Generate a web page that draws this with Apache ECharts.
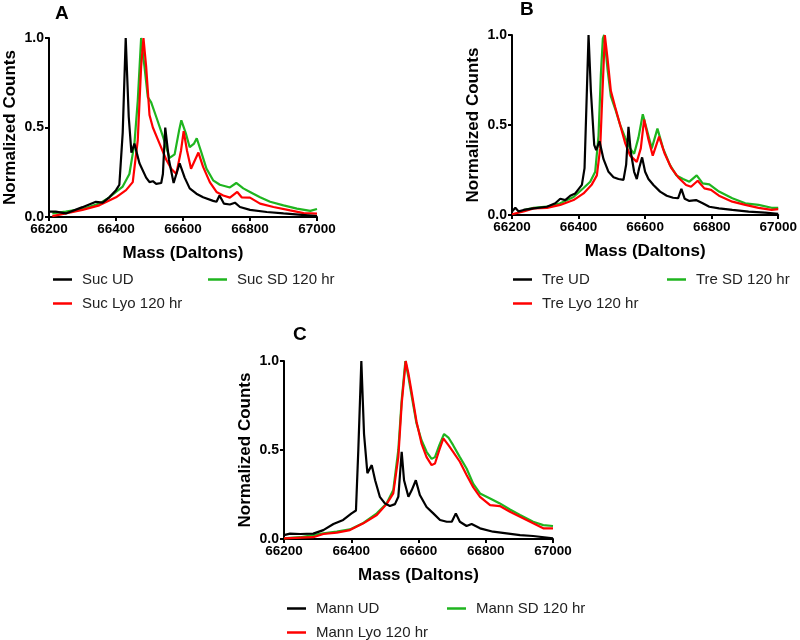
<!DOCTYPE html>
<html>
<head>
<meta charset="utf-8">
<script src="https://cdn.jsdelivr.net/npm/echarts@6/dist/echarts.min.js"></script>
<style>html,body{margin:0;padding:0;background:#fff}#c{width:800px;height:640px}</style>
</head>
<body>
<div id="c"></div>
<script>
// ---------- data (mass in Daltons, normalized counts) ----------
const xTicks = [66200, 66400, 66600, 66800, 67000];
const yTicks = [0.0, 0.5, 1.0];

// Panel A (sucrose)
const sucUD = [[66200,0.03],[66220,0.03],[66250,0.02],[66300,0.055],[66340,0.085],[66360,0.08],[66380,0.11],[66400,0.15],[66410,0.18],[66420,0.47],[66429,1.0],[66438,0.56],[66446,0.36],[66455,0.41],[66470,0.30],[66490,0.22],[66500,0.195],[66510,0.2],[66520,0.185],[66535,0.19],[66540,0.24],[66547,0.5],[66558,0.32],[66572,0.19],[66590,0.30],[66605,0.22],[66620,0.16],[66640,0.13],[66660,0.11],[66690,0.09],[66700,0.085],[66709,0.12],[66722,0.075],[66740,0.07],[66755,0.08],[66770,0.056],[66800,0.04],[66850,0.028],[66900,0.02],[67000,0.005]];
const sucSD = [[66210,0.02],[66250,0.03],[66300,0.045],[66350,0.075],[66380,0.11],[66400,0.14],[66420,0.17],[66440,0.24],[66455,0.41],[66465,0.65],[66475,1.0],[66485,0.84],[66495,0.67],[66505,0.64],[66520,0.56],[66540,0.45],[66560,0.33],[66575,0.35],[66588,0.48],[66595,0.54],[66608,0.47],[66620,0.39],[66633,0.41],[66641,0.44],[66655,0.36],[66670,0.27],[66690,0.205],[66710,0.18],[66740,0.165],[66759,0.19],[66780,0.16],[66800,0.14],[66830,0.11],[66860,0.085],[66900,0.065],[66940,0.047],[66980,0.034],[67000,0.045]];
const sucLyo = [[66210,0.005],[66250,0.02],[66300,0.04],[66350,0.065],[66400,0.11],[66430,0.15],[66450,0.195],[66465,0.43],[66475,0.84],[66482,1.0],[66490,0.84],[66500,0.57],[66510,0.5],[66530,0.41],[66550,0.32],[66565,0.27],[66580,0.24],[66594,0.37],[66602,0.48],[66612,0.37],[66624,0.27],[66646,0.36],[66660,0.28],[66680,0.195],[66700,0.14],[66720,0.12],[66740,0.108],[66762,0.14],[66775,0.11],[66800,0.108],[66830,0.075],[66870,0.056],[66920,0.037],[66960,0.022],[67000,0.019]];

// Panel B (trehalose)
const treUD = [[66200,0.02],[66210,0.04],[66220,0.02],[66235,0.028],[66265,0.037],[66305,0.046],[66330,0.065],[66345,0.09],[66360,0.083],[66375,0.107],[66390,0.12],[66410,0.167],[66418,0.26],[66425,0.69],[66430,1.0],[66437,0.69],[66447,0.39],[66453,0.36],[66463,0.41],[66475,0.31],[66490,0.24],[66505,0.21],[66520,0.2],[66535,0.195],[66543,0.28],[66550,0.49],[66557,0.35],[66567,0.24],[66575,0.2],[66582,0.26],[66591,0.32],[66600,0.24],[66610,0.2],[66625,0.167],[66645,0.13],[66665,0.107],[66684,0.096],[66699,0.093],[66709,0.145],[66719,0.09],[66733,0.078],[66753,0.083],[66773,0.065],[66793,0.046],[66822,0.037],[66862,0.028],[66911,0.019],[66960,0.013],[67000,0.007]];
const treSD = [[66235,0.028],[66265,0.04],[66305,0.046],[66345,0.065],[66385,0.1],[66415,0.15],[66435,0.185],[66450,0.24],[66460,0.44],[66467,0.78],[66473,0.98],[66477,1.0],[66487,0.81],[66497,0.66],[66510,0.59],[66525,0.5],[66540,0.43],[66555,0.37],[66567,0.34],[66580,0.43],[66593,0.56],[66610,0.44],[66620,0.37],[66637,0.48],[66654,0.37],[66674,0.28],[66694,0.22],[66714,0.2],[66733,0.185],[66755,0.22],[66773,0.176],[66793,0.17],[66822,0.13],[66862,0.093],[66901,0.065],[66941,0.056],[66980,0.04],[67000,0.04]];
const treLyo = [[66200,0.004],[66235,0.02],[66265,0.037],[66305,0.04],[66345,0.056],[66385,0.083],[66415,0.12],[66440,0.17],[66455,0.22],[66465,0.37],[66472,0.69],[66479,1.0],[66487,0.87],[66497,0.69],[66510,0.6],[66525,0.5],[66540,0.4],[66555,0.33],[66575,0.295],[66587,0.37],[66597,0.53],[66610,0.42],[66623,0.33],[66642,0.435],[66659,0.34],[66679,0.26],[66699,0.21],[66723,0.167],[66738,0.157],[66758,0.19],[66778,0.148],[66798,0.14],[66822,0.107],[66862,0.074],[66901,0.056],[66941,0.04],[66980,0.028],[67000,0.033]];

// Panel C (mannitol)
const mannUD = [[66200,0.022],[66218,0.03],[66248,0.028],[66287,0.03],[66317,0.05],[66347,0.084],[66376,0.107],[66401,0.144],[66414,0.16],[66421,0.5],[66430,1.0],[66438,0.59],[66448,0.37],[66461,0.415],[66471,0.33],[66485,0.237],[66500,0.2],[66515,0.185],[66530,0.196],[66540,0.237],[66550,0.49],[66557,0.33],[66570,0.237],[66580,0.275],[66592,0.33],[66604,0.247],[66624,0.18],[66644,0.144],[66664,0.107],[66684,0.097],[66699,0.097],[66711,0.144],[66723,0.097],[66743,0.073],[66758,0.084],[66783,0.06],[66822,0.041],[66862,0.032],[66902,0.022],[66941,0.017],[67000,0.004]];
const mannSD = [[66200,0.004],[66248,0.01],[66287,0.022],[66317,0.032],[66357,0.041],[66396,0.054],[66436,0.09],[66476,0.144],[66505,0.2],[66525,0.275],[66540,0.5],[66550,0.78],[66561,1.0],[66570,0.91],[66580,0.8],[66594,0.65],[66609,0.555],[66624,0.49],[66639,0.45],[66649,0.46],[66662,0.527],[66676,0.59],[66689,0.57],[66703,0.527],[66723,0.46],[66743,0.396],[66763,0.31],[66783,0.256],[66813,0.228],[66842,0.2],[66872,0.166],[66902,0.135],[66941,0.097],[66971,0.078],[67000,0.073]];
const mannLyo = [[66200,0.004],[66287,0.01],[66317,0.028],[66357,0.036],[66396,0.05],[66436,0.088],[66476,0.135],[66505,0.196],[66525,0.256],[66540,0.46],[66550,0.76],[66562,1.0],[66570,0.93],[66580,0.82],[66594,0.66],[66609,0.536],[66624,0.46],[66639,0.415],[66649,0.424],[66662,0.5],[66674,0.565],[66689,0.527],[66703,0.49],[66723,0.434],[66743,0.36],[66763,0.29],[66783,0.237],[66813,0.19],[66842,0.185],[66872,0.153],[66902,0.125],[66941,0.088],[66971,0.06],[67000,0.06]];

// ---------- chart ----------
const FONT = '"Liberation Sans", Arial, sans-serif';
const BLACK = '#000000', RED = '#ff0000', GREEN = '#1fb51f';

const grids = [
  {left: 49, top: 38, width: 268, height: 179},
  {left: 512, top: 35, width: 268, height: 180},
  {left: 284, top: 361, width: 269, height: 178}
];

function xAx(i) {
  return {
    type: 'value', gridIndex: i, min: xTicks[0], max: xTicks[xTicks.length - 1], interval: 200,
    name: 'Mass (Daltons)', nameLocation: 'middle', nameGap: 28,
    nameTextStyle: {fontFamily: FONT, fontWeight: 'bold', fontSize: 17, color: '#000'},
    axisLine: {show: true, lineStyle: {color: '#000', width: 2}},
    axisTick: {show: true, length: 4, lineStyle: {color: '#000', width: 2}},
    axisLabel: {fontFamily: FONT, fontWeight: 'bold', fontSize: 13.5, color: '#000', margin: 5,
      formatter: v => String(v)},
    splitLine: {show: false}
  };
}
function yAx(i) {
  return {
    type: 'value', gridIndex: i, min: yTicks[0], max: yTicks[yTicks.length - 1], interval: 0.5,
    name: 'Normalized Counts', nameLocation: 'middle', nameGap: 30,
    nameTextStyle: {fontFamily: FONT, fontWeight: 'bold', fontSize: 17, color: '#000'},
    axisLine: {show: true, lineStyle: {color: '#000', width: 2}},
    axisTick: {show: true, length: 4, lineStyle: {color: '#000', width: 2}},
    axisLabel: {fontFamily: FONT, fontWeight: 'bold', fontSize: 14, color: '#000', margin: 5,
      formatter: v => v.toFixed(1)},
    splitLine: {show: false}
  };
}
function ser(name, data, color, i) {
  return {
    name, type: 'line', xAxisIndex: i, yAxisIndex: i, data,
    showSymbol: false, symbol: 'none', animation: false,
    lineStyle: {color, width: 2.2}, itemStyle: {color}
  };
}
function leg(name, color, left, top) {
  return {
    data: [{name, icon: 'rect'}], left, top, itemWidth: 19, itemHeight: 2.5,
    selectedMode: false,
    textStyle: {fontFamily: FONT, fontSize: 15, color: '#222', padding: [0, 0, 0, 5]},
    itemStyle: {color}
  };
}

const chart = echarts.init(document.getElementById('c'), null, {renderer: 'canvas'});
chart.setOption({
  backgroundColor: '#fff',
  animation: false,
  title: [
    {text: 'A', left: 55, top: 4, padding: 0, textStyle: {fontFamily: FONT, fontWeight: 'bold', fontSize: 19, color: '#000'}},
    {text: 'B', left: 520, top: 0, padding: 0, textStyle: {fontFamily: FONT, fontWeight: 'bold', fontSize: 19, color: '#000'}},
    {text: 'C', left: 293, top: 325, padding: 0, textStyle: {fontFamily: FONT, fontWeight: 'bold', fontSize: 19, color: '#000'}}
  ],
  grid: grids,
  xAxis: [xAx(0), xAx(1), xAx(2)],
  yAxis: [yAx(0), yAx(1), yAx(2)],
  legend: [
    leg('Suc UD', BLACK, 48, 267), leg('Suc SD 120 hr', GREEN, 203, 267), leg('Suc Lyo 120 hr', RED, 48, 291),
    leg('Tre UD', BLACK, 508, 267), leg('Tre SD 120 hr', GREEN, 662, 267), leg('Tre Lyo 120 hr', RED, 508, 291),
    leg('Mann UD', BLACK, 282, 596), leg('Mann SD 120 hr', GREEN, 442, 596), leg('Mann Lyo 120 hr', RED, 282, 620)
  ],
  series: [
    ser('Suc SD 120 hr', sucSD, GREEN, 0), ser('Suc Lyo 120 hr', sucLyo, RED, 0), ser('Suc UD', sucUD, BLACK, 0),
    ser('Tre SD 120 hr', treSD, GREEN, 1), ser('Tre Lyo 120 hr', treLyo, RED, 1), ser('Tre UD', treUD, BLACK, 1),
    ser('Mann SD 120 hr', mannSD, GREEN, 2), ser('Mann Lyo 120 hr', mannLyo, RED, 2), ser('Mann UD', mannUD, BLACK, 2)
  ]
});
</script>
</body>
</html>
